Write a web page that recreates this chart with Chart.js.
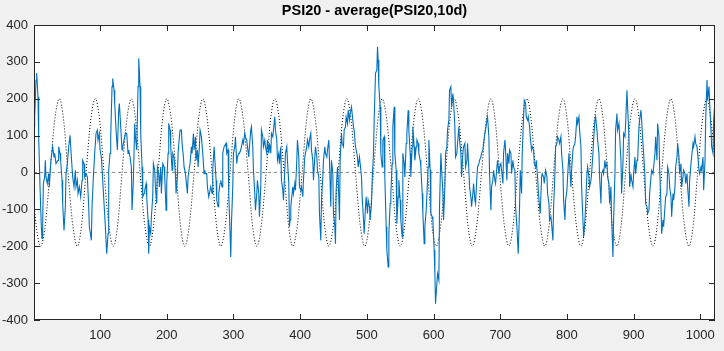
<!DOCTYPE html>
<html>
<head>
<meta charset="utf-8">
<title>PSI20 - average(PSI20,10d)</title>
<script src="https://cdn.jsdelivr.net/npm/chart.js@4.4.1/dist/chart.umd.min.js"></script>
<style>
  html, body { margin: 0; padding: 0; background: #f0f0f0; }
  #wrap { width: 724px; height: 351px; }
</style>
</head>
<body>
<div id="wrap"><canvas id="psiChart" width="724" height="351"></canvas></div>
<script>
const chartTitle = 'PSI20 - average(PSI20,10d)';
const xTicks = [100, 200, 300, 400, 500, 600, 700, 800, 900, 1000];
const yTicks = [-400, -300, -200, -100, 0, 100, 200, 300, 400];
const xRange = [1, 1022];

// PSI20 minus its 10 day average as [x, y]
const psiSeries = [
  [1,124],[2,151],[4,250],[5,270],[7,205],[8,97],[10,-39],[12,-147],[13,-179],[14,-147],[15,-30],[17,-12],[18,33],[19,-12],[21,-30],[23,-3],[24,-39],[26,24],[27,42],[29,70],[31,42],[32,52],[34,24],[37,33],[38,70],[40,52],[41,33],[43,-21],[44,-84],[46,-157],[48,-93],[49,-3],[51,24],[53,70],[55,101],[57,42],[59,-12],[61,-39],[63,6],[64,-39],[66,-21],[67,-57],[69,-39],[71,-66],[73,-21],[74,33],[76,24],[77,-12],[79,-3],[81,-12],[83,-93],[84,-147],[87,-184],[88,-93],[90,-12],[92,52],[94,106],[96,115],[97,88],[99,106],[100,61],[102,42],[104,-21],[106,-84],[108,-147],[110,-220],[112,-166],[113,6],[115,52],[116,97],[118,233],[119,255],[121,224],[122,187],[124,115],[126,61],[128,169],
  [129,187],[131,124],[133,61],[134,70],[136,88],[138,106],[140,106],[142,52],[143,61],[145,42],[147,15],[148,-102],[150,-21],[152,133],[153,97],[155,61],[157,233],[158,310],[160,233],[161,106],[163,15],[164,-66],[166,-57],[167,-48],[169,-30],[170,-66],[172,-129],[173,-220],[174,-147],[176,-166],[177,-120],[179,-66],[180,24],[182,6],[183,-39],[185,-84],[186,15],[188,-3],[189,-39],[191,15],[192,-57],[194,24],[196,15],[197,-12],[199,-102],[200,-30],[202,52],[203,133],[205,115],[206,70],[208,6],[209,52],[211,42],[213,-3],[214,-57],[216,-12],[217,52],[219,97],[220,115],[222,115],[223,79],[225,42],[226,15],[228,-3],[229,-21],[231,-57],[232,-12],[234,15],[235,24],[237,70],[238,52],[240,106],[241,61],[243,97],[244,33],[246,61],[247,15],[249,70],[250,115],[252,97],[254,52],[256,-3],
  [257,6],[258,-3],[260,-3],[261,-39],[263,-66],[264,-57],[266,-39],[268,-57],[269,6],[271,70],[272,70],[274,-21],[275,-75],[277,-93],[278,-57],[280,-30],[281,-21],[283,-39],[284,52],[286,70],[287,70],[289,79],[290,52],[292,61],[293,-57],[295,-166],[296,-229],[297,-139],[299,-39],[300,52],[302,70],[303,97],[305,24],[306,42],[308,52],[309,52],[311,61],[312,70],[314,88],[315,79],[317,106],[318,97],[320,88],[321,70],[323,42],[324,70],[326,115],[327,124],[329,70],[330,6],[332,-57],[333,-102],[335,-57],[336,-21],[338,-57],[339,-120],[341,-39],[342,115],[344,97],[345,70],[347,88],[348,70],[350,52],[351,88],[353,52],[354,79],[356,52],[357,106],[359,97],[360,115],[362,151],[363,115],[365,88],[366,33],[368,52],[369,24],[371,70],[372,-21],[374,-48],[375,-75],[377,6],[378,52],[380,70],[381,33],[383,-30],[384,-147],
  [385,-129],[386,-93],[387,-75],[389,-39],[390,-57],[392,-30],[393,-48],[395,33],[396,88],[398,42],[399,-39],[401,-48],[402,-39],[404,-66],[405,-21],[407,42],[408,52],[410,70],[411,88],[413,70],[414,88],[416,106],[417,61],[419,33],[420,-21],[422,42],[423,70],[425,42],[426,6],[428,-12],[429,-111],[431,-184],[432,-75],[434,-12],[435,33],[437,70],[438,52],[440,42],[441,61],[443,88],[444,33],[446,-93],[447,33],[449,-3],[450,-111],[452,-147],[453,-193],[454,-48],[456,15],[457,-12],[459,-129],[460,33],[462,106],[463,79],[465,70],[466,115],[468,124],[469,151],[471,133],[472,169],[474,142],[475,160],[477,178],[478,160],[480,124],[481,115],[483,70],[484,61],[486,42],[487,15],[489,42],[490,24],[492,-12],[493,-66],[495,-129],[496,-166],[498,-93],[499,-66],[501,-111],[502,-75],[504,-93],[505,-129],[507,-84],[508,-21],[510,52],[511,142],
  [513,269],[515,278],[516,341],[517,305],[518,233],[520,178],[521,52],[523,15],[524,88],[526,97],[527,-12],[529,-147],[530,-211],[532,-256],[533,-166],[535,-84],[536,-57],[538,24],[539,124],[541,178],[542,52],[544,6],[545,-139],[547,-66],[548,-21],[550,-75],[551,-129],[553,-175],[554,52],[556,24],[557,-12],[559,79],[560,106],[562,169],[563,115],[565,52],[566,-12],[568,70],[569,124],[571,70],[572,33],[574,70],[575,88],[577,79],[578,52],[580,33],[581,15],[583,-57],[584,-111],[586,-193],[587,-147],[589,-102],[590,-102],[592,15],[593,88],[595,6],[596,-111],[598,-120],[599,-129],[601,-211],[602,-274],[603,-356],[605,-301],[606,-274],[608,-292],[609,-93],[611,52],[612,15],[614,-57],[615,-129],[617,-39],[618,52],[620,70],[621,115],[623,142],[624,223],[626,233],[627,178],[629,214],[630,196],[632,124],[633,42],[635,52],[636,79],[638,124],[639,88],
  [641,52],[642,-12],[644,52],[645,70],[647,79],[648,15],[650,33],[651,79],[653,6],[654,-39],[656,-66],[657,-93],[659,-57],[660,-30],[662,-75],[663,-84],[665,-12],[666,15],[668,24],[669,33],[671,42],[672,52],[674,61],[675,79],[677,106],[678,115],[680,142],[681,151],[683,97],[684,-3],[686,-102],[687,-39],[689,-21],[690,6],[692,-21],[693,-30],[695,15],[696,33],[698,-3],[699,15],[701,24],[702,6],[704,-30],[705,52],[707,88],[708,61],[710,-21],[711,52],[713,24],[714,61],[716,52],[717,-3],[719,33],[720,15],[722,6],[723,-93],[725,-147],[726,-184],[727,-220],[729,-93],[730,6],[732,-57],[733,52],[735,151],[736,196],[738,187],[739,151],[741,142],[742,151],[744,124],[745,97],[747,61],[748,70],[750,61],[751,24],[753,15],[754,33],[756,-12],[757,-48],[759,-93],[760,-111],[762,-12],[763,-3],[765,-12],[766,-30],
  [768,6],[770,-12],[771,-57],[773,-84],[774,-129],[776,-120],[777,-139],[779,-184],[780,-93],[782,-3],[783,70],[785,79],[786,97],[788,88],[789,79],[791,97],[792,52],[794,6],[795,-75],[797,-129],[798,-75],[800,-48],[801,-12],[803,52],[804,24],[806,-39],[807,6],[809,61],[810,70],[812,79],[813,97],[815,151],[816,133],[818,151],[819,115],[821,70],[822,-39],[824,-129],[825,-175],[827,-129],[828,-93],[830,-3],[831,15],[833,-12],[834,-39],[836,-21],[837,-3],[839,52],[840,88],[842,142],[843,151],[845,115],[846,88],[848,52],[849,-12],[851,-84],[852,-3],[854,6],[855,-3],[857,33],[858,15],[860,24],[861,-12],[863,-30],[864,-84],[866,-39],[867,-129],[869,-229],[870,-129],[872,-3],[873,115],[875,160],[876,115],[878,133],[879,97],[881,33],[882,-57],[884,24],[885,106],[887,97],[888,133],[890,223],[891,178],[893,97],[894,-39],
  [896,-3],[897,-21],[899,-39],[900,-3],[902,42],[903,-3],[905,33],[906,33],[908,124],[909,142],[911,169],[912,142],[914,79],[915,52],[917,-12],[918,-84],[920,-93],[921,-111],[923,-102],[924,-57],[926,-12],[927,6],[929,-3],[930,15],[932,52],[933,97],[935,33],[936,133],[938,97],[939,15],[941,-93],[942,-166],[944,-129],[945,-147],[947,-93],[948,-66],[950,-57],[951,15],[953,-3],[954,-39],[956,-66],[957,-120],[959,-57],[960,-75],[962,-39],[963,15],[965,42],[966,79],[968,42],[969,-3],[971,24],[972,-39],[974,-12],[975,6],[977,-3],[978,-30],[980,-3],[981,-39],[983,-93],[984,-21],[986,24],[987,42],[989,79],[990,70],[992,97],[993,79],[995,70],[996,52],[998,6],[999,-3],[1001,15],[1002,6],[1004,42],[1005,-48],[1007,33],[1008,142],[1010,251],[1011,196],[1013,233],[1014,187],[1016,115],[1017,70],[1019,52],[1020,142],[1022,196]
];

// dotted reference cycle: peaks, troughs, zero crossings and the points half way between
const cycleSeries = [
  [1,-80],[4,-141],[11,-200],[18,-141],[25,0],[32,141],[39,200],[45.5,141],[52,0],[59,-141],[66,-200],[72.5,-141],[79,0],[86,141],[93,200],[99.5,141],[106,0],[113,-141],[120,-200],[126.5,-141],[133,0],[140,141],[147,200],[153.5,141],[160,0],[167,-141],[174,-200],[180.5,-141],[187,0],[193.5,141],[200,200],[207,141],[214,0],[220.5,-141],[227,-200],[234,-141],[241,0],[247.5,141],[254,200],[261,141],[268,0],[274.5,-141],[281,-200],[288,-141],[295,0],[301.5,141],[308,200],[315,141],[322,0],[328.5,-141],[335,-200],[342,-141],[349,0],[355.5,141],[362,200],[369,141],[376,0],[382.5,-141],[389,-200],[396,-141],[403,0],[409.5,141],[416,200],[423,141],[430,0],[436.5,-141],[443,-200],[450,-141],[457,0],[463.5,141],[470,200],[476.5,141],[483,0],[490,-141],[497,-200],[503.5,-141],[510,0],[516.5,141],[523,200],[530,141],[537,0],[543.5,-141],[550,-200],[557,-141],[564,0],[570.5,141],[577,200],[584,141],[591,0],[597.5,-141],[604,-200],[611,-141],[618,0],[624.5,141],[631,200],[638,141],[645,0],[651.5,-141],[658,-200],[665,-141],[672,0],[679,141],[686,200],[692.5,141],[699,0],[706,-141],[713,-200],[719.5,-141],[726,0],[733,141],[740,200],[746.5,141],[753,0],[760,-141],[767,-200],[773.5,-141],[780,0],[787,141],[794,200],[800.5,141],[807,0],[814,-141],[821,-200],[827.5,-141],[834,0],[841,141],[848,200],[854.5,141],[861,0],[868,-141],[875,-200],[881.5,-141],[888,0],[895,141],[902,200],[908.5,141],[915,0],[922,-141],[929,-200],[935.5,-141],[942,0],[949,141],[956,200],[962.5,141],[969,0],[976,-141],[983,-200],[989.5,-141],[996,0],[1003,141],[1010,200],[1016,141],[1022,35]
];

const zeroLine = [[1,0],[1022,0]];

const toPoints = rows => rows.map(r => ({ x: r[0], y: r[1] }));

const axisColor = '#262626';

// white plot area, box, inward ticks and the title
const matlabAxes = {
  id: 'matlabAxes',
  beforeDraw(chart) {
    const a = chart.chartArea;
    const ctx = chart.ctx;
    ctx.save();
    ctx.fillStyle = '#ffffff';
    ctx.fillRect(a.left, a.top, a.right - a.left, a.bottom - a.top);
    ctx.restore();
  },
  afterDraw(chart) {
    const a = chart.chartArea;
    const ctx = chart.ctx;
    const xs = chart.scales.x, ys = chart.scales.y;
    const len = 6;
    ctx.save();
    ctx.strokeStyle = axisColor;
    ctx.lineWidth = 1;
    ctx.strokeRect(a.left + 0.5, a.top + 0.5, a.right - a.left - 1, a.bottom - a.top - 1);
    ctx.beginPath();
    xTicks.forEach(v => {
      const px = Math.round(xs.getPixelForValue(v)) + 0.5;
      ctx.moveTo(px, a.bottom); ctx.lineTo(px, a.bottom - len);
      ctx.moveTo(px, a.top); ctx.lineTo(px, a.top + len);
    });
    yTicks.forEach(v => {
      const py = Math.round(ys.getPixelForValue(v)) + 0.5;
      ctx.moveTo(a.left, py); ctx.lineTo(a.left + len, py);
      ctx.moveTo(a.right, py); ctx.lineTo(a.right - len, py);
    });
    ctx.stroke();

    ctx.fillStyle = '#000000';
    ctx.font = 'bold 14.5px "Liberation Sans", Arial, sans-serif';
    ctx.textAlign = 'center';
    ctx.textBaseline = 'middle';
    ctx.fillText(chartTitle, (a.left + a.right) / 2, 11);
    ctx.restore();
  }
};

new Chart(document.getElementById('psiChart'), {
  type: 'line',
  data: {
    datasets: [
      {
        label: 'PSI20 - average',
        data: toPoints(psiSeries),
        borderColor: '#0072bd',
        borderWidth: 1.1,
        pointRadius: 0,
        tension: 0,
        order: 0
      },
      {
        label: 'cycle',
        data: toPoints(cycleSeries),
        borderColor: '#000000',
        borderWidth: 1,
        borderDash: [1, 2],
        pointRadius: 0,
        cubicInterpolationMode: 'monotone',
        order: 1
      },
      {
        label: 'zero',
        data: toPoints(zeroLine),
        borderColor: '#8c8c8c',
        borderWidth: 1,
        borderDash: [3, 3],
        pointRadius: 0,
        order: 2
      }
    ]
  },
  options: {
    responsive: false,
    animation: false,
    events: [],
    layout: { padding: { top: 25, right: 9, left: 0, bottom: 0 } },
    plugins: {
      legend: { display: false },
      title: { display: false },
      tooltip: { enabled: false }
    },
    scales: {
      x: {
        type: 'linear',
        min: xRange[0],
        max: xRange[1],
        afterBuildTicks: scale => { scale.ticks = xTicks.map(v => ({ value: v })); },
        afterFit: scale => { scale.height = 31; },
        grid: { display: false, drawTicks: false },
        border: { display: false },
        ticks: {
          padding: 8,
          maxRotation: 0,
          autoSkip: false,
          color: axisColor,
          callback: value => String(value),
          font: { family: '"Liberation Sans", Arial, sans-serif', size: 13 }
        }
      },
      y: {
        min: -400,
        max: 400,
        afterBuildTicks: scale => { scale.ticks = yTicks.map(v => ({ value: v })); },
        afterFit: scale => { scale.width = 34; },
        grid: { display: false, drawTicks: false },
        border: { display: false },
        ticks: {
          padding: 6,
          autoSkip: false,
          color: axisColor,
          callback: value => String(value),
          font: { family: '"Liberation Sans", Arial, sans-serif', size: 13 }
        }
      }
    }
  },
  plugins: [matlabAxes]
});
</script>
</body>
</html>
